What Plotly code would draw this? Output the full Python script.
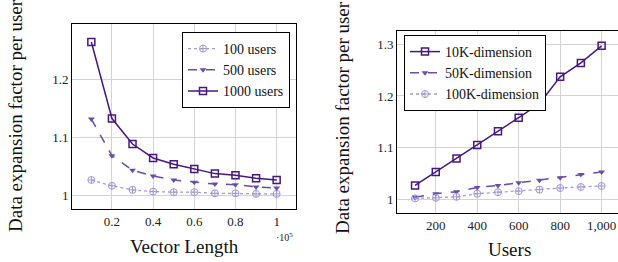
import plotly.graph_objects as go

# ---- data: left panel (vector length, in units of 1e5) ----
vector_length = [0.1, 0.2, 0.3, 0.4, 0.5, 0.6, 0.7, 0.8, 0.9, 1.0]
users_100 = [1.026, 1.016, 1.009, 1.006, 1.005, 1.005, 1.003, 1.003, 1.002, 1.002]
users_500 = [1.131, 1.068, 1.043, 1.033, 1.026, 1.022, 1.019, 1.018, 1.014, 1.012]
users_1000 = [1.264, 1.132, 1.088, 1.064, 1.053, 1.045, 1.037, 1.034, 1.029, 1.026]

# ---- data: right panel (users) ----
users = [100, 200, 300, 400, 500, 600, 700, 800, 900, 1000]
dim_10k = [1.027, 1.053, 1.079, 1.105, 1.132, 1.158, 1.185, 1.237, 1.264, 1.297]
dim_50k = [1.004, 1.011, 1.015, 1.023, 1.027, 1.032, 1.037, 1.042, 1.048, 1.053]
dim_100k = [1.002, 1.003, 1.005, 1.011, 1.014, 1.016, 1.019, 1.022, 1.024, 1.026]

left_xticks = [0.2, 0.4, 0.6, 0.8, 1.0]
left_xticktext = ["0.2", "0.4", "0.6", "0.8", "1"]
left_yticks = [1.0, 1.1, 1.2]
left_yticktext = ["1", "1.1", "1.2"]
right_xticks = [200, 400, 600, 800, 1000]
right_xticktext = ["200", "400", "600", "800", "1,000"]
right_yticks = [1.0, 1.1, 1.2, 1.3]
right_yticktext = ["1", "1.1", "1.2", "1.3"]

DARK = "#45177f"
MID = "#6a4ea6"
LIGHT = "#a596d6"
FONT = "Liberation Serif, Times New Roman, Times, serif"

fig = go.Figure()

fig.add_trace(go.Scatter(x=vector_length, y=users_100, name="100 users", mode="lines+markers",
                         line=dict(color=LIGHT, width=1.3, dash="dot"),
                         marker=dict(symbol="circle-cross-open", size=7, color=LIGHT, line=dict(width=1)),
                         xaxis="x", yaxis="y", legend="legend"))
fig.add_trace(go.Scatter(x=vector_length, y=users_500, name="500 users", mode="lines+markers",
                         line=dict(color=MID, width=1.5, dash="dash"),
                         marker=dict(symbol="triangle-down", size=6, color=MID),
                         xaxis="x", yaxis="y", legend="legend"))
fig.add_trace(go.Scatter(x=vector_length, y=users_1000, name="1000 users", mode="lines+markers",
                         line=dict(color=DARK, width=1.5),
                         marker=dict(symbol="square-open", size=7, color=DARK, line=dict(width=1.5)),
                         xaxis="x", yaxis="y", legend="legend"))

fig.add_trace(go.Scatter(x=users, y=dim_10k, name="10K-dimension", mode="lines+markers",
                         line=dict(color=DARK, width=1.5),
                         marker=dict(symbol="square-open", size=7, color=DARK, line=dict(width=1.5)),
                         xaxis="x2", yaxis="y2", legend="legend2"))
fig.add_trace(go.Scatter(x=users, y=dim_50k, name="50K-dimension", mode="lines+markers",
                         line=dict(color=MID, width=1.5, dash="dash"),
                         marker=dict(symbol="triangle-down", size=6, color=MID),
                         xaxis="x2", yaxis="y2", legend="legend2"))
fig.add_trace(go.Scatter(x=users, y=dim_100k, name="100K-dimension", mode="lines+markers",
                         line=dict(color=LIGHT, width=1.3, dash="dot"),
                         marker=dict(symbol="circle-cross-open", size=7, color=LIGHT, line=dict(width=1)),
                         xaxis="x2", yaxis="y2", legend="legend2"))

W, H = 618, 262
tickfont = dict(family=FONT, size=13, color="#222")
grid = "#d3d3d3"

common_axis = dict(showline=True, linecolor="black", linewidth=1, showgrid=True, gridcolor=grid,
                   gridwidth=1, zeroline=False, tickfont=tickfont, ticks="", ticklen=0)

fig.update_layout(
    width=W, height=H, margin=dict(l=0, r=0, t=0, b=0),
    paper_bgcolor="white", plot_bgcolor="white",
    font=dict(family=FONT, color="#222"),
    xaxis=dict(domain=[72 / W, 296 / W], range=[0.006, 1.094], tickvals=left_xticks,
               ticktext=left_xticktext, mirror=True, anchor="y", **common_axis),
    yaxis=dict(domain=[1 - 209 / H, 1 - 24 / H], range=[0.976, 1.295], tickvals=left_yticks,
               ticktext=left_yticktext, mirror=True, anchor="x", **common_axis),
    xaxis2=dict(domain=[397 / W, 1.0], range=[13, 1079], tickvals=right_xticks,
                ticktext=right_xticktext, mirror=True, anchor="y2", **common_axis),
    yaxis2=dict(domain=[1 - 213 / H, 1 - 31 / H], range=[0.9737, 1.3257], tickvals=right_yticks,
                ticktext=right_yticktext, mirror=False, anchor="x2", **common_axis),
    legend=dict(x=182 / W, y=1 - 32 / H, xanchor="left", yanchor="top",
                bordercolor="black", borderwidth=1, bgcolor="white",
                font=dict(family=FONT, size=14, color="#111"), itemwidth=30),
    legend2=dict(x=404 / W, y=1 - 35 / H, xanchor="left", yanchor="top",
                 bordercolor="black", borderwidth=1, bgcolor="white",
                 font=dict(family=FONT, size=14, color="#111"), itemwidth=30),
    showlegend=True,
)

ann_font = dict(family=FONT, size=19, color="#111")
for txt, xp, yp, ang in [("Data expansion factor per user", 15, 116, -90),
                         ("Data expansion factor per user", 342, 118, -90),
                         ("Vector Length", 184, 246, 0),
                         ("Users", 509, 249, 0)]:
    fig.add_annotation(text=txt, textangle=ang, x=xp / W, y=1 - yp / H, xref="paper", yref="paper",
                       xanchor="center", yanchor="middle", showarrow=False, font=ann_font)
fig.add_annotation(text="·10<sup>5</sup>", x=284 / W, y=1 - 237 / H, xref="paper", yref="paper",
                   xanchor="center", yanchor="middle",
                   showarrow=False, font=dict(family=FONT, size=10, color="#222"))

fig.write_html("out.html", post_script="document.body.style.margin='0';",
               config={"displayModeBar": False})
